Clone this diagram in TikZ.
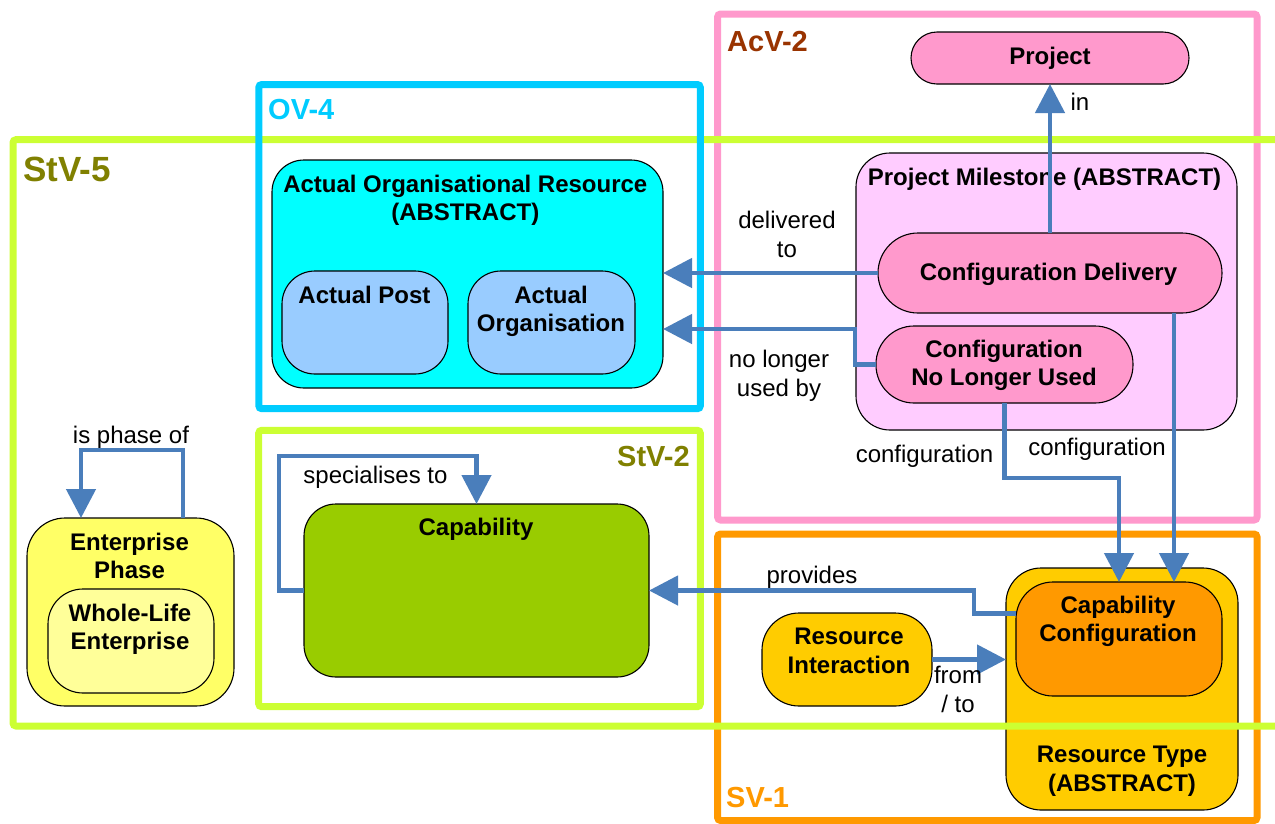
\documentclass[tikz,border=0pt]{standalone}
\usepackage{fontspec}
\setmainfont{Liberation Sans}
\usetikzlibrary{arrows.meta}
\definecolor{conncol}{HTML}{4A7EBB}
\definecolor{fgreen}{HTML}{CCFF33}
\definecolor{fcyan}{HTML}{00CCFF}
\definecolor{fpink}{HTML}{FF99CC}
\definecolor{forange}{HTML}{FF9900}
\definecolor{tolive}{HTML}{808000}
\definecolor{tbrown}{HTML}{993300}
\definecolor{cpink}{HTML}{FF99CC}
\definecolor{clpink}{HTML}{FFCCFF}
\definecolor{ccyan}{HTML}{00FFFF}
\definecolor{cblue}{HTML}{99CCFF}
\definecolor{cgreen}{HTML}{99CC00}
\definecolor{cyel}{HTML}{FFFF66}
\definecolor{clyel}{HTML}{FFFF99}
\definecolor{cgold}{HTML}{FFCC00}
\definecolor{corange}{HTML}{FF9900}
\begin{document}
\begin{tikzpicture}[x=1pt,y=-1pt,
  box/.style={draw=black, line width=1.1pt, anchor=north west, inner sep=0pt, outer sep=0pt},
  frame/.style={line width=7pt, rounded corners=3pt},
  flabel/.style={font=\bfseries\fontsize{29}{33}\selectfont, anchor=base west, inner sep=0pt},
  ntxt/.style={font=\bfseries\fontsize{24}{28.8}\selectfont, align=center, inner sep=0pt},
  ltxt/.style={font=\fontsize{24}{29}\selectfont, align=center, inner sep=0pt},
  conn/.style={draw=conncol, line width=4.6pt, -{Triangle[length=29pt,width=29pt]}}
]
\useasboundingbox[fill=white] (0,0) rectangle (1275,823);

% frames (under nodes)
\draw[frame, fpink] (717.6,14) rectangle (1257,520);
\draw[frame, forange] (717.6,534) rectangle (1257,820.5);
\draw[frame, fgreen] (258.7,430.3) rectangle (700.3,706.7);

% nodes
\node[box, fill=cpink, minimum width=278pt, minimum height=52pt, rounded corners=26pt] (proj) at (911,32) {};
\node[box, fill=clpink, minimum width=381pt, minimum height=277pt, rounded corners=34pt] (pm) at (856,153) {};
\node[box, fill=cpink, minimum width=344pt, minimum height=80pt, rounded corners=40pt] (cd) at (878,233) {};
\node[box, fill=cpink, minimum width=257pt, minimum height=77pt, rounded corners=38pt] (cnlu) at (876,326) {};
\node[box, fill=ccyan, minimum width=391pt, minimum height=228pt, rounded corners=32pt] (aor) at (272,160) {};
\node[box, fill=cblue, minimum width=166pt, minimum height=103pt, rounded corners=33pt] (ap) at (282,271) {};
\node[box, fill=cblue, minimum width=167pt, minimum height=103pt, rounded corners=33pt] (ao) at (468,271) {};
\node[box, fill=cgreen, minimum width=345pt, minimum height=173pt, rounded corners=32pt] (cap) at (304,504) {};
\node[box, fill=cyel, minimum width=207pt, minimum height=188pt, rounded corners=38pt] (ep) at (27,518) {};
\node[box, fill=clyel, minimum width=166pt, minimum height=104pt, rounded corners=35pt] (wl) at (48,589) {};
\node[box, fill=cgold, minimum width=170pt, minimum height=93pt, rounded corners=37pt] (ri) at (762,613) {};
\node[box, fill=cgold, minimum width=232pt, minimum height=242pt, rounded corners=35pt] (rt) at (1006,568) {};
\node[box, fill=corange, minimum width=206pt, minimum height=114pt, rounded corners=37pt] (cc) at (1016,582) {};

% node texts
\node[ntxt, anchor=base] (proj-t) at (1050,64) {Project};
\node[ntxt, anchor=base] (pm-t) at (1044.5,185) {Project Milestone (ABSTRACT)};
\node[ntxt, anchor=base] (cd-t) at (1048.5,280) {Configuration Delivery};
\node[ntxt, anchor=north] (cnlu-t) at (1004,339.5) {Configuration\\No Longer Used};
\node[ntxt, anchor=north] (aor-t) at (465.3,174.5) {Actual Organisational Resource\\(ABSTRACT)};
\node[ntxt, anchor=base] (ap-t) at (364.5,303) {Actual Post};
\node[ntxt, anchor=north] (ao-t) at (551,285.5) {Actual\\Organisation};
\node[ntxt, anchor=base] (cap-t) at (476,535) {Capability};
\node[ntxt, anchor=north] (ep-t) at (129.5,532.5) {Enterprise\\Phase};
\node[ntxt, anchor=north] (wl-t) at (130,603.5) {Whole-Life\\Enterprise};
\node[ntxt, anchor=north] (ri-t) at (849,627.5) {Resource\\Interaction};
\node[ntxt, anchor=north] (cc-t) at (1118,595.5) {Capability\\Configuration};
\node[ntxt, anchor=north] (rt-t) at (1122,745.5) {Resource Type\\(ABSTRACT)};

% upper frames
\draw[frame, fgreen] (1280,139.7) -- (13,139.7) -- (13,726) -- (1280,726);
\draw[frame, fcyan] (258.8,84.5) rectangle (700.3,408.7);

% frame labels
\node[flabel, font=\bfseries\fontsize{35}{40}\selectfont, text=tolive] (l-stv5) at (23,181) {StV-5};
\node[flabel, text=fcyan] (l-ov4) at (268,119) {OV-4};
\node[flabel, text=tbrown] (l-acv2) at (727,51) {AcV-2};
\node[flabel, text=tolive] (l-stv2) at (617,466) {StV-2};
\node[flabel, text=forange] (l-sv1) at (726,807) {SV-1};

% connectors
\draw[conn] (cd.north) -- (cd.north |- proj.south);
\draw[conn] (cd.west) -- (cd.west -| aor.east);
\draw[conn] (cnlu.west) -- ++(-21,0) |- ([yshift=-55pt]aor.east);
\draw[conn] (cnlu.south) -- ++(0,75) -| (cc.north);
\draw[conn] ([xshift=124pt]cd.south) -- ([xshift=124pt]cd.south |- cc.north);
\draw[conn] ([yshift=25.5pt]cc.west) -- ++(-42,0) |- (cap.east);
\draw[conn] (ri.east) -- (ri.east -| rt.west);
\draw[conn] (cap.west) -- ++(-25,0) |- ([yshift=48pt]cap.north) -- (cap.north);
\draw[conn] ([xshift=52.5pt]ep.north) -- ++(0,-68) -| ([xshift=-49.5pt]ep.north);

% connector labels
\node[ltxt, anchor=base] (lb-in) at (1080,110) {in};
\node[ltxt, anchor=north] (lb-del) at (787,210.5) {delivered\\to};
\node[ltxt, anchor=north] (lb-nlu) at (779,349.5) {no longer\\used by};
\node[ltxt, anchor=base] (lb-cfg1) at (924.5,462) {configuration};
\node[ltxt, anchor=base] (lb-cfg2) at (1097,455) {configuration};
\node[ltxt, anchor=base] (lb-prov) at (812,583) {provides};
\node[ltxt, anchor=north] (lb-ft) at (958,665.5) {from\\/ to};
\node[ltxt, anchor=base] (lb-spec) at (375.5,483) {specialises to};
\node[ltxt, anchor=base] (lb-phase) at (131,443) {is phase of};
\end{tikzpicture}
\end{document}
